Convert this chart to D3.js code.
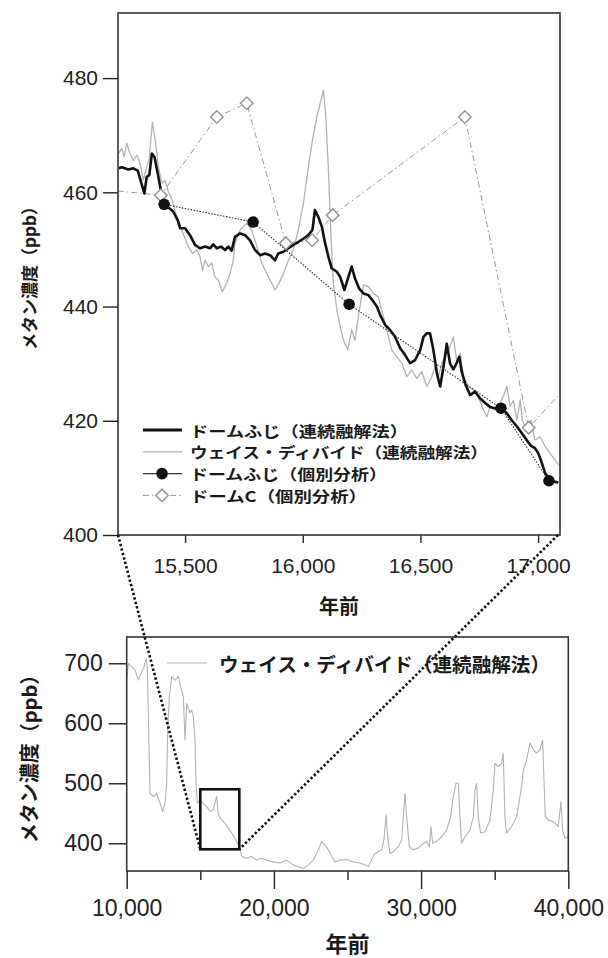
<!DOCTYPE html>
<html>
<head>
<meta charset="utf-8">
<script src="https://cdn.jsdelivr.net/npm/d3@7"></script>
<style>
  body { margin: 0; background: #fff; }
  svg { display: block; }
</style>
</head>
<body>
<svg id="chart" width="608" height="958"></svg>
<script>
// ---- Data: methane concentration (ppb) vs. years before present ----

// Dome Fuji, continuous flow analysis
const domeFujiCFA = [
  [15217,464.2],[15231,464.4],[15259,464.0],[15280,464.2],[15299,463.8],[15313,461.8],[15327,459.8],
  [15337,462.7],[15348,463.0],[15359,466.8],[15370,466.2],[15384,463.3],[15394,461.0],[15408,458.3],
  [15429,457.4],[15450,456.6],[15469,455.1],[15479,453.7],[15500,453.7],[15521,452.5],[15542,450.8],
  [15564,450.2],[15585,450.5],[15606,450.2],[15620,450.9],[15635,450.2],[15653,450.5],[15670,449.9],
  [15684,450.5],[15698,449.8],[15712,452.2],[15734,452.8],[15755,452.5],[15776,451.6],[15797,449.9],
  [15819,449.0],[15840,449.3],[15861,449.0],[15882,448.1],[15896,449.3],[15918,449.6],[15939,450.2],
  [15960,450.8],[15981,451.3],[16003,451.9],[16024,452.5],[16041,453.4],[16052,456.9],[16066,455.7],
  [16081,454.0],[16095,451.1],[16109,448.7],[16123,446.7],[16145,446.1],[16159,445.2],[16177,442.9],
  [16194,445.2],[16208,447.0],[16222,444.9],[16239,443.2],[16258,442.3],[16279,442.0],[16296,441.1],
  [16315,440.0],[16329,438.5],[16350,436.8],[16371,435.9],[16392,434.7],[16414,432.7],[16435,431.5],
  [16456,430.1],[16477,430.6],[16499,432.4],[16513,434.7],[16527,435.3],[16541,435.3],[16555,432.4],
  [16570,428.3],[16584,426.0],[16598,429.5],[16612,433.5],[16626,430.0],[16640,429.0],[16655,430.2],
  [16665,431.2],[16676,428.5],[16690,426.5],[16711,424.5],[16732,425.1],[16754,423.9],[16775,423.1],
  [16796,422.4],[16817,422.2],[16846,422.0],[16867,421.3],[16888,420.1],[16910,419.0],[16931,417.8],
  [16952,416.6],[16970,415.6],[16987,415.2],[17001,414.3],[17016,412.6],[17030,410.8],[17051,409.6],
  [17072,409.3],[17086,409.2]
];

// WAIS Divide, continuous flow analysis (detail window)
const waisDetail = [
  [15217,466.8],[15231,467.7],[15242,466.2],[15252,468.6],[15266,466.8],[15280,465.6],[15295,466.5],
  [15309,465.1],[15323,462.1],[15337,464.5],[15347,465.6],[15361,472.3],[15373,469.1],[15387,464.5],
  [15401,461.6],[15415,462.1],[15429,460.1],[15446,458.6],[15458,456.6],[15472,455.1],[15486,453.4],
  [15500,451.9],[15514,450.5],[15531,449.3],[15550,449.9],[15564,448.7],[15574,446.4],[15585,448.1],
  [15599,447.0],[15613,447.6],[15627,445.2],[15642,444.6],[15658,442.6],[15677,444.1],[15691,445.8],
  [15705,448.1],[15712,451.1],[15734,453.4],[15748,454.0],[15762,454.6],[15783,453.4],[15805,450.5],
  [15826,447.6],[15847,445.8],[15868,444.1],[15882,442.9],[15899,444.1],[15918,445.8],[15939,448.1],
  [15960,449.9],[15981,453.4],[16003,458.1],[16024,464.5],[16041,469.1],[16060,473.2],[16074,475.6],
  [16088,477.9],[16098,473.2],[16109,463.9],[16120,452.2],[16130,444.1],[16145,439.4],[16159,436.5],
  [16173,434.1],[16191,432.4],[16208,435.9],[16222,434.1],[16236,438.2],[16258,443.8],[16279,443.5],
  [16300,442.3],[16321,441.7],[16343,438.2],[16364,434.7],[16378,432.4],[16400,431.2],[16421,430.1],
  [16442,427.7],[16463,428.9],[16485,427.4],[16506,428.6],[16527,426.0],[16548,427.7],[16562,429.5],
  [16576,427.7],[16591,430.1],[16612,431.8],[16626,433.0],[16640,434.7],[16655,430.1],[16669,431.8],
  [16683,427.7],[16704,426.0],[16725,425.4],[16746,424.2],[16768,421.9],[16782,420.7],[16796,422.5],
  [16817,421.9],[16839,423.1],[16857,424.8],[16867,426.0],[16881,422.5],[16895,423.6],[16910,420.1],
  [16924,423.6],[16933,420.1],[16952,418.4],[16970,420.1],[16987,416.6],[17008,417.2],[17030,415.5],
  [17051,414.3],[17072,413.1],[17093,412.0]
];

// Dome Fuji, discrete samples
const domeFujiDiscrete = [[15411,457.9],[15789,454.8],[16197,440.4],[16842,422.2],[17046,409.5]];

// Dome C, discrete samples
const domeCDiscrete = [
  [15100,460.7],[15397,459.5],[15635,473.2],[15762,475.6],[15928,451.1],
  [16040,451.6],[16127,456.0],[16689,473.2],[16960,418.8],[17200,429.5]
];

// WAIS Divide, 10,000–40,000 years overview
const waisOverview = [
  [10000,672],[10113,700],[10340,694],[10566,689],[10792,672],[11019,686],[11177,694],[11313,708],
  [11404,694],[11471,611],[11585,483],[11811,478],[12038,483],[12264,467],[12445,453],[12604,467],
  [12717,500],[12785,589],[12898,644],[13057,678],[13283,672],[13509,678],[13668,661],[13849,644],
  [13962,572],[14075,633],[14302,617],[14415,622],[14528,611],[14641,572],[14709,500],[14800,467],
  [14981,472],[15162,467],[15434,461],[15660,453],[15886,456],[16113,478],[16226,447],[16452,439],
  [16679,433],[16905,425],[17132,417],[17358,408],[17652,394],[17811,378],[18150,375],[18490,378],
  [18830,372],[19169,375],[19509,372],[19962,369],[20414,367],[20867,372],[21320,364],[21660,361],
  [22000,358],[22339,364],[22678,372],[23018,389],[23245,403],[23471,397],[23698,389],[23924,378],
  [24150,369],[24490,372],[24942,373],[25395,369],[25848,367],[26188,364],[26414,361],[26641,372],
  [26867,383],[27093,386],[27320,389],[27478,406],[27614,447],[27727,411],[27886,383],[28112,386],
  [28452,394],[28678,406],[28904,483],[29018,444],[29199,394],[29470,389],[29810,392],[30150,400],
  [30376,403],[30557,394],[30670,428],[30783,400],[31055,403],[31395,411],[31734,422],[32006,444],
  [32187,478],[32368,500],[32527,500],[32640,444],[32753,400],[32980,411],[33320,422],[33546,444],
  [33659,489],[33772,500],[33885,444],[34043,417],[34338,419],[34678,439],[34904,489],[35017,533],
  [35243,528],[35469,533],[35582,550],[35695,444],[35808,417],[36148,428],[36488,444],[36828,494],
  [36942,522],[37168,539],[37395,567],[37621,556],[37847,550],[38074,556],[38255,572],[38345,506],
  [38436,444],[38640,439],[38979,436],[39319,428],[39500,469],[39613,422],[39772,408],[39998,411]
];

// Axis ticks and labels
const detailYTicks = [400, 420, 440, 460, 480];
const detailXTicks = [15500, 16000, 16500, 17000];
const overviewYTicks = [400, 500, 600, 700];
const overviewXMajor = [10000, 20000, 30000, 40000];
const overviewXMinor = [15000, 25000, 35000];
const zoomWindow = { x: [15000, 17650], y: [390, 490] };

const yTitle = "メタン濃度（ppb）";
const xTitle = "年前";
const legendLabels = [
  "ドームふじ（連続融解法）",
  "ウェイス・ディバイド（連続融解法）",
  "ドームふじ（個別分析）",
  "ドームC（個別分析）"
];

// ---- Drawing ----
const svg = d3.select("#chart");
const NUM_FONT = "'Liberation Sans', Arial, Helvetica, sans-serif";
const JP_FONT = "'Noto Sans CJK JP', 'Noto Sans', sans-serif";
const fmt = d3.format(",");

// Detail panel geometry
const pTop = { left: 118, right: 560, top: 13, bottom: 535 };
const xTop = d3.scaleLinear().domain([15215, 17093]).range([pTop.left, pTop.right]);
const yTop = d3.scaleLinear().domain([400, 491.4]).range([pTop.bottom, pTop.top]);

// Overview panel geometry
const pBot = { left: 126.7, right: 568.3, top: 637, bottom: 871 };
const xBot = d3.scaleLinear().domain([10000, 40000]).range([pBot.left, pBot.right]);
const yBot = d3.scaleLinear().domain([353.8, 743.8]).range([pBot.bottom, pBot.top]);

const defs = svg.append("defs");
defs.append("clipPath").attr("id", "clipTop").append("rect")
  .attr("x", pTop.left).attr("y", pTop.top)
  .attr("width", pTop.right - pTop.left).attr("height", pTop.bottom - pTop.top);
defs.append("clipPath").attr("id", "clipBot").append("rect")
  .attr("x", pBot.left).attr("y", pBot.top)
  .attr("width", pBot.right - pBot.left).attr("height", pBot.bottom - pBot.top);

function styleAxis(g, size) {
  g.select(".domain").remove();
  g.selectAll(".tick line").attr("stroke", "#222").attr("stroke-width", 1.4);
  g.selectAll(".tick text").attr("fill", "#222").style("font-family", NUM_FONT).style("font-size", size + "px");
}

// ---------- Detail panel ----------
const gTop = svg.append("g");

gTop.append("g").attr("transform", `translate(${pTop.left},0)`)
  .call(d3.axisLeft(yTop).tickValues(detailYTicks).tickSize(15).tickPadding(5))
  .call(g => styleAxis(g, 21));

gTop.append("g").attr("transform", `translate(0,${pTop.bottom})`)
  .call(d3.axisBottom(xTop).tickValues(detailXTicks).tickSize(8).tickPadding(15).tickFormat(fmt))
  .call(g => styleAxis(g, 21));

const plotTop = gTop.append("g").attr("clip-path", "url(#clipTop)");
const lineTop = d3.line().x(d => xTop(d[0])).y(d => yTop(d[1]));

plotTop.append("path").datum(waisDetail).attr("d", lineTop)
  .attr("fill", "none").attr("stroke", "#b3b3b3").attr("stroke-width", 1.3).attr("stroke-linejoin", "round");

plotTop.append("path").datum(domeCDiscrete).attr("d", lineTop)
  .attr("fill", "none").attr("stroke", "#9a9a9a").attr("stroke-width", 1)
  .attr("stroke-dasharray", "6 3 1.5 3");

plotTop.append("path").datum(domeFujiCFA).attr("d", lineTop)
  .attr("fill", "none").attr("stroke", "#111").attr("stroke-width", 2.6).attr("stroke-linejoin", "round");

plotTop.append("path").datum(domeFujiDiscrete).attr("d", lineTop)
  .attr("fill", "none").attr("stroke", "#333").attr("stroke-width", 1.1)
  .attr("stroke-dasharray", "1.5 1.5");

// open diamonds: squares turned 45°
const diamond = d3.symbol().type(d3.symbolSquare).size(78);
plotTop.selectAll(".dc").data(domeCDiscrete).join("path")
  .attr("transform", d => `translate(${xTop(d[0])},${yTop(d[1])}) rotate(45)`)
  .attr("d", diamond).attr("fill", "#fff").attr("stroke", "#999").attr("stroke-width", 1.5);

plotTop.selectAll(".df").data(domeFujiDiscrete).join("circle")
  .attr("cx", d => xTop(d[0])).attr("cy", d => yTop(d[1])).attr("r", 5.8).attr("fill", "#111");

gTop.append("rect")
  .attr("x", pTop.left).attr("y", pTop.top)
  .attr("width", pTop.right - pTop.left).attr("height", pTop.bottom - pTop.top)
  .attr("fill", "none").attr("stroke", "#333").attr("stroke-width", 1.6);

// Legend
const legRows = [430, 451.8, 473.6, 495.4];
const legWidths = [218, 298, 197, 177];
const leg = gTop.append("g");
legendLabels.forEach((label, i) => {
  const y = legRows[i];
  const row = leg.append("g");
  if (i === 0) row.append("line").attr("stroke", "#111").attr("stroke-width", 2.8);
  if (i === 1) row.append("line").attr("stroke", "#b3b3b3").attr("stroke-width", 1.3);
  if (i === 2) row.append("line").attr("stroke", "#333").attr("stroke-width", 1.1);
  if (i === 3) row.append("line").attr("stroke", "#9a9a9a").attr("stroke-width", 1).attr("stroke-dasharray", "6 3 1.5 3");
  row.select("line").attr("x1", 143).attr("x2", 182).attr("y1", y).attr("y2", y);
  if (i === 2) row.append("circle").attr("cx", 162).attr("cy", y).attr("r", 5.8).attr("fill", "#111");
  if (i === 3) row.append("path").attr("transform", `translate(162,${y}) rotate(45)`).attr("d", diamond)
    .attr("fill", "#fff").attr("stroke", "#999").attr("stroke-width", 1.5);
  row.append("text").attr("x", 190).attr("y", y).attr("dominant-baseline", "central")
    .attr("textLength", legWidths[i]).attr("lengthAdjust", "spacingAndGlyphs")
    .style("font-family", JP_FONT).style("font-size", "15px").style("font-weight", "bold")
    .attr("fill", "#1a1a1a").text(label);
});

gTop.append("text").attr("transform", `translate(28,${(pTop.top + pTop.bottom) / 2}) rotate(-90)`)
  .attr("text-anchor", "middle").attr("dominant-baseline", "central")
  .style("font-family", JP_FONT).style("font-size", "17px").style("font-weight", "bold")
  .attr("fill", "#1a1a1a").text(yTitle);

gTop.append("text").attr("x", (pTop.left + pTop.right) / 2).attr("y", 605)
  .attr("text-anchor", "middle").attr("dominant-baseline", "central")
  .style("font-family", JP_FONT).style("font-size", "20px").style("font-weight", "bold")
  .attr("fill", "#1a1a1a").text(xTitle);

// ---------- Overview panel ----------
const gBot = svg.append("g");

gBot.append("g").attr("transform", `translate(${pBot.left},0)`)
  .call(d3.axisLeft(yBot).tickValues(overviewYTicks).tickSize(18).tickPadding(6))
  .call(g => styleAxis(g, 23));

gBot.append("g").attr("transform", `translate(0,${pBot.bottom})`)
  .call(d3.axisBottom(xBot).tickValues(overviewXMajor).tickSize(18).tickPadding(11).tickFormat(fmt))
  .call(g => styleAxis(g, 23));

gBot.append("g").attr("transform", `translate(0,${pBot.bottom})`)
  .call(d3.axisBottom(xBot).tickValues(overviewXMinor).tickSize(9).tickFormat(() => ""))
  .call(g => styleAxis(g, 23));

const lineBot = d3.line().x(d => xBot(d[0])).y(d => yBot(d[1]));
gBot.append("g").attr("clip-path", "url(#clipBot)")
  .append("path").datum(waisOverview).attr("d", lineBot)
  .attr("fill", "none").attr("stroke", "#b3b3b3").attr("stroke-width", 1.1).attr("stroke-linejoin", "round");

gBot.append("rect")
  .attr("x", pBot.left).attr("y", pBot.top)
  .attr("width", pBot.right - pBot.left).attr("height", pBot.bottom - pBot.top)
  .attr("fill", "none").attr("stroke", "#333").attr("stroke-width", 1.6);

// Zoom window outline
const boxX0 = xBot(zoomWindow.x[0]), boxX1 = xBot(zoomWindow.x[1]);
const boxY0 = yBot(zoomWindow.y[1]), boxY1 = yBot(zoomWindow.y[0]);
gBot.append("rect").attr("x", boxX0).attr("y", boxY0)
  .attr("width", boxX1 - boxX0).attr("height", boxY1 - boxY0)
  .attr("fill", "none").attr("stroke", "#111").attr("stroke-width", 2.6);

// Legend
gBot.append("line").attr("x1", 167).attr("x2", 207).attr("y1", 663).attr("y2", 663)
  .attr("stroke", "#b3b3b3").attr("stroke-width", 1.1);
gBot.append("text").attr("x", 219).attr("y", 663).attr("dominant-baseline", "central")
  .attr("textLength", 331).attr("lengthAdjust", "spacingAndGlyphs")
  .style("font-family", JP_FONT).style("font-size", "19.5px").style("font-weight", "bold")
  .attr("fill", "#1a1a1a").text(legendLabels[1]);

gBot.append("text").attr("transform", `translate(28,${(pBot.top + pBot.bottom) / 2}) rotate(-90)`)
  .attr("text-anchor", "middle").attr("dominant-baseline", "central")
  .style("font-family", JP_FONT).style("font-size", "20px").style("font-weight", "bold")
  .attr("fill", "#1a1a1a").text(yTitle);

gBot.append("text").attr("x", (pBot.left + pBot.right) / 2).attr("y", 942)
  .attr("text-anchor", "middle").attr("dominant-baseline", "central")
  .style("font-family", JP_FONT).style("font-size", "22px").style("font-weight", "bold")
  .attr("fill", "#1a1a1a").text(xTitle);

// Dotted connectors from the detail panel corners to the zoom window
const connectors = [
  [[pTop.left, pTop.bottom], [boxX0, boxY1]],
  [[pTop.right - 2, pTop.bottom], [boxX1, boxY1]]
];
svg.append("g").selectAll("line").data(connectors).join("line")
  .attr("x1", d => d[0][0]).attr("y1", d => d[0][1])
  .attr("x2", d => d[1][0]).attr("y2", d => d[1][1])
  .attr("stroke", "#111").attr("stroke-width", 2.6).attr("stroke-dasharray", "2.4 2.2");
</script>
</body>
</html>
